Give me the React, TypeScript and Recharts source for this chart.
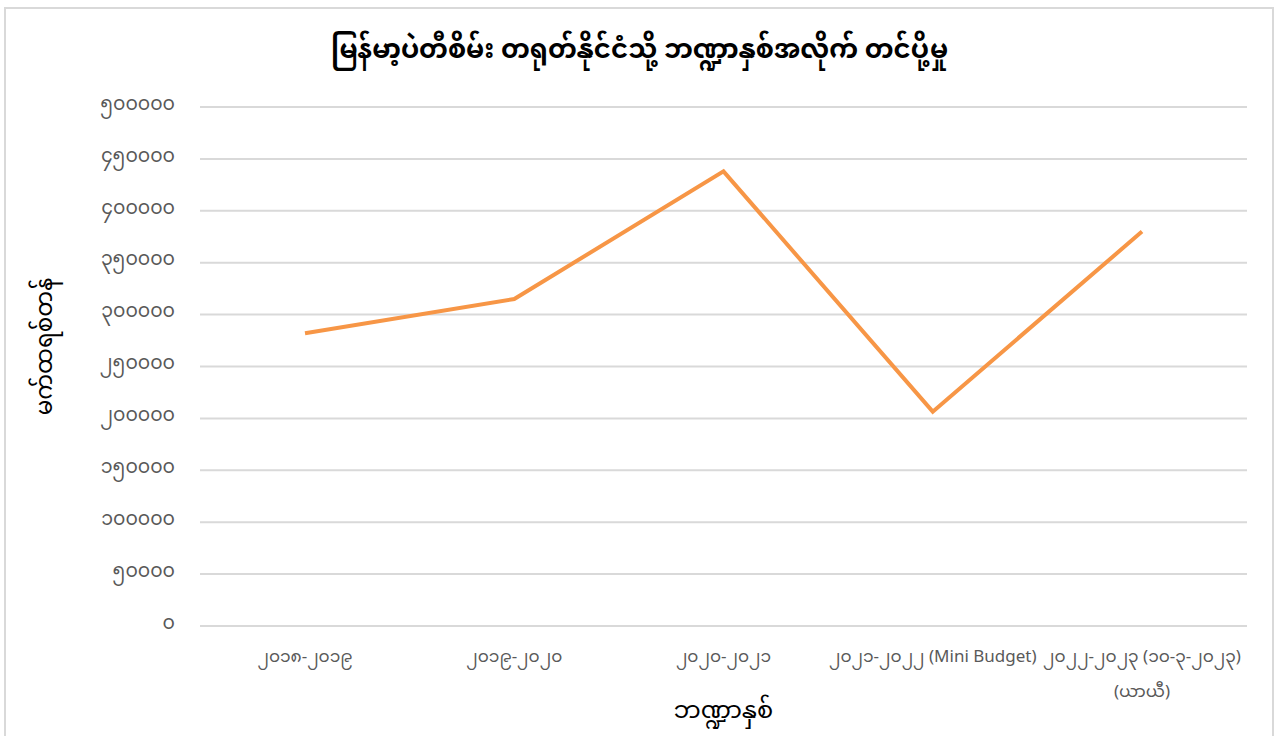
import React from 'react'
import { LineChart, Line, XAxis, YAxis, CartesianGrid, Label } from 'recharts'

const title = 'မြန်မာ့ပဲတီစိမ်း တရုတ်နိုင်ငံသို့ ဘဏ္ဍာနှစ်အလိုက် တင်ပို့မှု'
const xTitle = 'ဘဏ္ဍာနှစ်'
const yTitle = 'မက်ထရစ်တန်'

const years = [
  '၂၀၁၈-၂၀၁၉',
  '၂၀၁၉-၂၀၂၀',
  '၂၀၂၀-၂၀၂၁',
  '၂၀၂၁-၂၀၂၂ (Mini Budget)',
  '၂၀၂၂-၂၀၂၃ (၁၀-၃-၂၀၂၃)\n(ယာယီ)',
]
const exports = [282000, 315000, 438000, 206500, 380000]

const yTicks = [0, 50000, 100000, 150000, 200000, 250000, 300000, 350000, 400000, 450000, 500000]
const yTickLabels = ['၀', '၅၀၀၀၀', '၁၀၀၀၀၀', '၁၅၀၀၀၀', '၂၀၀၀၀၀', '၂၅၀၀၀၀', '၃၀၀၀၀၀', '၃၅၀၀၀၀', '၄၀၀၀၀၀', '၄၅၀၀၀၀', '၅၀၀၀၀၀']

const font = '"Noto Sans Myanmar", "Myanmar Text", Padauk, "Noto Sans", sans-serif'

const data = years.map((name, i) => ({ name, value: exports[i] }))

function XTick({ x, y, payload }: any) {
  const lines = String(payload.value).split('\n')
  return (
    <text x={x} y={y} textAnchor="middle" fill="#595959" fontSize={17} fontFamily={font}>
      {lines.map((l, i) => (
        <tspan key={i} x={x} dy={i === 0 ? 28 : 35}>{l}</tspan>
      ))}
    </text>
  )
}

export default function App() {
  return (
    <div style={{ position: 'absolute', left: 0, top: 0, width: 1279, height: 736, background: '#fff', overflow: 'hidden' }}>
      <div style={{ position: 'absolute', left: 4, top: 7, width: 1266, height: 740, border: '2px solid #d9d9d9' }} />
      <div style={{ position: 'absolute', left: 0, top: 24, width: 1279, textAlign: 'center', fontFamily: font, fontSize: 26, fontWeight: 'bold', color: '#000' }}>
        {title}
      </div>
      <div style={{ position: 'absolute', left: 0, top: 0 }}>
        <LineChart width={1279} height={736} data={data} margin={{ top: 107, right: 32, bottom: 40, left: 100 }}>
          <CartesianGrid vertical={false} stroke="#d9d9d9" strokeWidth={2} />
          <XAxis
            dataKey="name"
            axisLine={false}
            tickLine={false}
            interval={0}
            tick={<XTick />}
            height={70}
            padding={{ left: 105, right: 105 }}
          >
            <Label value={xTitle} position="insideBottom" offset={-22} fill="#000" fontSize={24} fontFamily={font} />
          </XAxis>
          <YAxis
            domain={[0, 500000]}
            ticks={yTicks}
            axisLine={false}
            tickLine={false}
            width={100}
            tickMargin={19}
            tick={{ fill: '#595959', fontSize: 19, fontFamily: font, dy: -4 }}
            tickFormatter={(v: number) => yTickLabels[yTicks.indexOf(v)]}
          >
            <Label value={yTitle} angle={-90} position="insideLeft" offset={-56} dy={-20} fill="#000" fontSize={23} fontFamily={font} style={{ textAnchor: 'middle' }} />
          </YAxis>
          <Line type="linear" dataKey="value" stroke="#f79646" strokeWidth={4} dot={false} isAnimationActive={false} />
        </LineChart>
      </div>
    </div>
  )
}
